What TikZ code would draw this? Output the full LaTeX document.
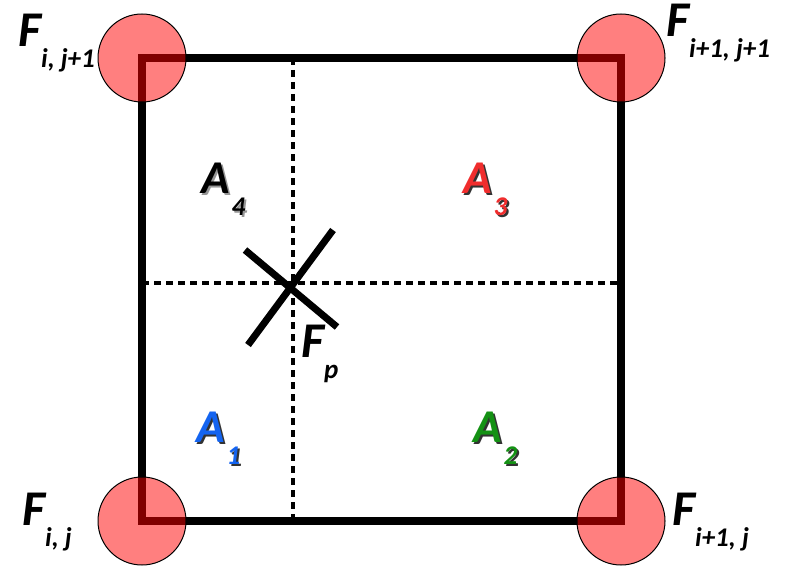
\documentclass[tikz,border=0pt]{standalone}
\usepackage{fontspec}
\setmainfont{Carlito}
\usetikzlibrary{positioning}
\definecolor{areared}{RGB}{240, 45, 45}
\definecolor{areablue}{RGB}{20, 100, 240}
\definecolor{areagreen}{RGB}{20, 145, 20}
\definecolor{shadowclr}{RGB}{50, 50, 50}
\definecolor{shadowlite}{RGB}{150,150,150}
\tikzset{
  % Katak chegarasi
  cellline/.style  = {line width=8pt, draw=black},
  % Ichki bo'luvchi chiziqlar
  gridline/.style  = {line width=3.5pt, draw=black, dash pattern=on 7pt off 5pt},
  % Interpolatsiya nuqtasi belgisi
  crossline/.style = {line width=7pt, draw=black},
  % Tugun doiralari
  nodept/.style    = {circle, draw=black, line width=1pt, fill=red,
                      fill opacity=0.5, minimum size=88pt, inner sep=0pt},
  % Etiketlar
  flab/.style      = {anchor=base west, inner sep=0pt,
                      font=\fontsize{50}{50}\selectfont\bfseries\itshape},
  alab/.style      = {anchor=base west, inner sep=0pt,
                      font=\fontsize{47}{47}\selectfont\bfseries\itshape},
}
\newcommand{\fsub}[2]{#1\raisebox{-21pt}{\fontsize{27}{27}\selectfont #2}}
\newcommand{\asub}[2]{#1\kern2pt\raisebox{-22pt}{\fontsize{27}{27}\selectfont #2}}

\begin{document}
\begin{tikzpicture}[x=1pt, y=-1pt]
  \useasboundingbox (0,0) rectangle (799,567);
  % Burchaklar
  \coordinate (BL) at (142,521);
  \coordinate (BR) at (621,521);
  \coordinate (TR) at (621,58);
  \coordinate (TL) at (142,58);
  % Bo'luvchi chiziq uchlari
  \coordinate (VT) at (293,58);
  \coordinate (VB) at (293,521);
  \coordinate (HL) at (142,283);
  \coordinate (HR) at (621,283);
  % Belgi uchlari
  \coordinate (X1) at (245,250);
  \coordinate (X2) at (337,327);
  \coordinate (X3) at (333,230);
  \coordinate (X4) at (248,345);
  % Ichki chiziqlar
  \draw[gridline] (VT) -- (VB);
  \draw[gridline] (HL) -- (HR);
  % Katak
  \draw[cellline] (BL) -- (BR) -- (TR) -- (TL) -- cycle;
  % Belgi
  \draw[crossline] (X1) -- (X2);
  \draw[crossline] (X3) -- (X4);
  % Tugunlar
  \node[nodept] (nBL) at (BL) {};
  \node[nodept] (nBR) at (BR) {};
  \node[nodept] (nTR) at (TR) {};
  \node[nodept] (nTL) at (TL) {};
  % Tugun etiketlari
  \node[flab] (fTL) at (18,47)  {\fsub{F}{i, j+1}};
  \node[flab] (fTR) at (666,37) {\fsub{F}{i+1, j+1}};
  \node[flab] (fBL) at (22,525) {\fsub{F}{i, j}};
  \node[flab] (fBR) at (672,525) {\fsub{F}{i+1, j}};
  \node[flab] (fP)  at (301,357) {\fsub{F}{p}};
  % Yuza etiketlari (soya bilan)
  \node[alab, shadowlite] (a4s) at (203,195) {\asub{A}{4}};
  \node[alab, black]      (a4)  at (201,193) {\asub{A}{4}};
  \node[alab, shadowclr]  (a3s) at (465,195) {\asub{A}{3}};
  \node[alab, areared]    (a3)  at (463,193) {\asub{A}{3}};
  \node[alab, shadowclr]  (a1s) at (198,444) {\asub{A}{1}};
  \node[alab, areablue]   (a1)  at (196,442) {\asub{A}{1}};
  \node[alab, shadowclr]  (a2s) at (475,444) {\asub{A}{2}};
  \node[alab, areagreen]  (a2)  at (473,442) {\asub{A}{2}};
\end{tikzpicture}
\end{document}
